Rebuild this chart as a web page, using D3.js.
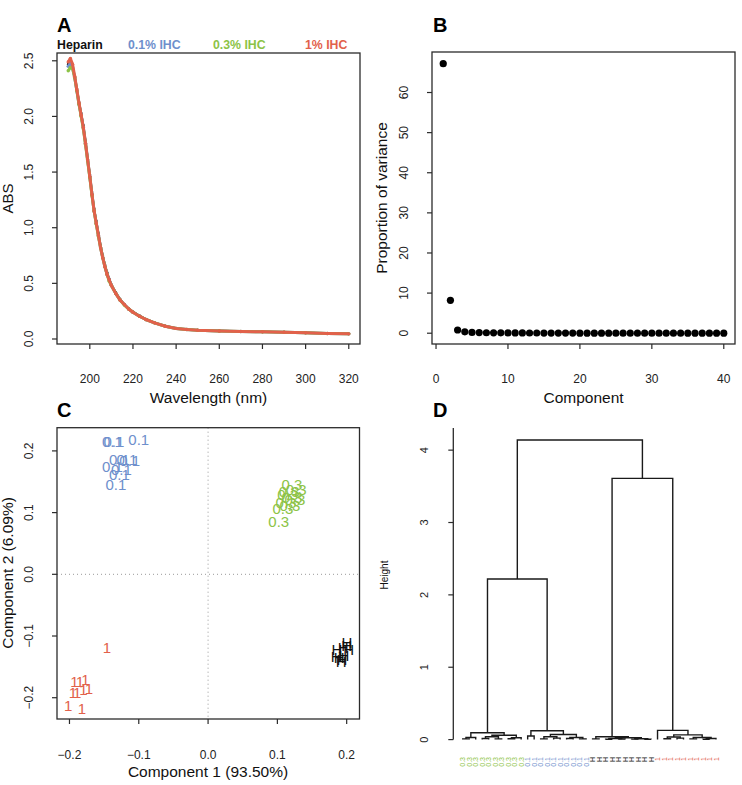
<!DOCTYPE html>
<html>
<head>
<meta charset="utf-8">
<script src="https://cdn.jsdelivr.net/npm/d3@7"></script>
<style>
  body { margin: 0; background: #fff; }
  svg { display: block; font-family: "Liberation Sans", Arial, Helvetica, sans-serif; }
</style>
</head>
<body>
<svg id="fig" width="742" height="785"></svg>
<script>
// ---- data ----
const wavelength = [190,191,192,193,194,195,196,197,198,199,200,201,202,203,204,205,206,207,208,209,210,212,214,216,218,220,223,226,230,235,240,245,250,260,270,280,290,300,310,320];
const absHeparin = [2.47,2.49,2.45,2.36,2.25,2.13,2.03,1.92,1.78,1.63,1.48,1.32,1.17,1.06,0.95,0.84,0.75,0.67,0.60,0.54,0.49,0.42,0.36,0.31,0.275,0.245,0.21,0.178,0.147,0.117,0.097,0.086,0.079,0.073,0.069,0.065,0.061,0.056,0.051,0.047];
const absIhc01 = [2.45,2.48,2.44,2.35,2.23,2.11,2.01,1.90,1.76,1.61,1.46,1.30,1.15,1.04,0.93,0.82,0.73,0.65,0.58,0.53,0.48,0.41,0.35,0.31,0.27,0.24,0.205,0.175,0.145,0.115,0.095,0.085,0.078,0.072,0.068,0.064,0.060,0.055,0.050,0.046];
const absIhc03 = [2.41,2.44,2.43,2.35,2.23,2.11,2.00,1.89,1.75,1.60,1.45,1.29,1.15,1.03,0.92,0.82,0.73,0.65,0.58,0.52,0.48,0.41,0.35,0.305,0.27,0.24,0.205,0.175,0.145,0.115,0.095,0.085,0.078,0.072,0.068,0.064,0.060,0.055,0.050,0.046];
const absIhc1 = [2.49,2.52,2.47,2.36,2.24,2.12,2.01,1.90,1.76,1.61,1.46,1.30,1.15,1.04,0.93,0.82,0.73,0.65,0.58,0.53,0.48,0.41,0.35,0.31,0.27,0.24,0.205,0.175,0.145,0.115,0.095,0.085,0.078,0.072,0.068,0.064,0.060,0.055,0.050,0.046];

const groupNames = ["Heparin", "0.1% IHC", "0.3% IHC", "1% IHC"];
const groupColors = ["#111111", "#6e8fcc", "#8cc346", "#e2614b"];

// scree plot (panel B)
const varianceProp = [67.2,8.2,0.8,0.35,0.2,0.15,0.12,0.1,0.09,0.08,0.07,0.06,0.05,0.05,0.04,0.04,0.03,0.03,0.03,0.02,0.02,0.02,0.02,0.02,0.01,0.01,0.01,0.01,0.01,0.01,0.01,0.01,0.01,0.01,0.0,0.0,0.0,0.0,0.0,0.0];

// PCA scores (panel C)
const pcLabel = ["0.1","0.3","1","H"];
const pc1_01 = [-0.138,-0.136,-0.100,-0.128,-0.117,-0.113,-0.138,-0.128,-0.125,-0.133];
const pc2_01 = [0.215,0.215,0.218,0.186,0.186,0.185,0.174,0.161,0.169,0.145];
const pc1_03 = [0.121,0.127,0.115,0.121,0.1125,0.118,0.108,0.1255,0.102,0.117];
const pc2_03 = [0.145,0.137,0.129,0.124,0.116,0.111,0.107,0.121,0.086,0.134];
const pc1_1 = [-0.146,-0.193,-0.185,-0.177,-0.195,-0.189,-0.180,-0.172,-0.202,-0.182];
const pc2_1 = [-0.119,-0.174,-0.174,-0.170,-0.192,-0.192,-0.187,-0.186,-0.212,-0.218];
const pc1_H = [0.186,0.195,0.200,0.203,0.189,0.196,0.192,0.185,0.2005,0.193];
const pc2_H = [-0.1227,-0.118,-0.115,-0.1227,-0.1357,-0.131,-0.142,-0.134,-0.110,-0.139];

// dendrogram (panel D): [height, left, right], leaves are labels
const treeGreen = [0.095, [0.03, [0.01,"0.3","0.3"], "0.3"], [0.06, [0.04, [0.015,"0.3","0.3"], [0.01,"0.3","0.3"]], [0.025, [0.012,"0.3","0.3"], "0.3"]]];
const treeBlue = [0.123, [0.05,"0.1","0.1"], [0.07, [0.04, [0.01,"0.1","0.1"], [0.02,"0.1","0.1"]], [0.03, [0.015,"0.1","0.1"], [0.01,"0.1","0.1"]]]];
const treeBlack = [0.04, [0.01,"H","H"], [0.025, [0.015, [0.005,"H","H"], [0.008,"H","H"]], [0.012, [0.006,"H","H"], [0.004,"H","H"]]]];
const treeRed = [0.128, "1", [0.065, [0.035, [0.012,"1","1"], [0.02,"1","1"]], [0.03, [0.01,"1","1"], [0.015, [0.005,"1","1"], "1"]]]];
const dendro = [4.14, [2.22, treeGreen, treeBlue], [3.61, treeBlack, treeRed]];
const leafColor = {"H": "#111111", "0.1": "#6e8fcc", "0.3": "#8cc346", "1": "#e2614b"};

// ---- drawing ----
const svg = d3.select("#fig");
const ink = "#2b2b2b";
const minus = s => s.replace("-", "\u2212");

function box(x, y) {
    svg.append("rect")
        .attr("x", x.range()[0]).attr("y", y.range()[1])
        .attr("width", x.range()[1] - x.range()[0])
        .attr("height", y.range()[0] - y.range()[1])
        .attr("fill", "none").attr("stroke", ink).attr("stroke-width", 1.3);
}

function xAxis(x, y0, ticks, labelY, fmt, size) {
    const g = svg.append("g");
    g.selectAll("line").data(ticks).join("line")
        .attr("x1", d => x(d)).attr("x2", d => x(d))
        .attr("y1", y0).attr("y2", y0 + 5)
        .attr("stroke", ink).attr("stroke-width", 1.2);
    g.selectAll("text").data(ticks).join("text")
        .attr("x", d => x(d)).attr("y", labelY)
        .attr("text-anchor", "middle").attr("font-size", size || 12).attr("fill", "#222")
        .text(d => minus(fmt(d)));
}

function yAxis(y, x0, ticks, labelX, fmt, size) {
    const g = svg.append("g");
    g.selectAll("line").data(ticks).join("line")
        .attr("x1", x0 - 5).attr("x2", x0)
        .attr("y1", d => y(d)).attr("y2", d => y(d))
        .attr("stroke", ink).attr("stroke-width", 1.2);
    g.selectAll("text").data(ticks).join("text")
        .attr("transform", d => `translate(${labelX},${y(d)}) rotate(-90)`)
        .attr("dy", "0.36em")
        .attr("text-anchor", "middle").attr("font-size", size || 12).attr("fill", "#222")
        .text(d => minus(fmt(d)));
}

function title(txt, x, y, rot, size) {
    svg.append("text")
        .attr("transform", rot ? `translate(${x},${y}) rotate(-90)` : `translate(${x},${y})`)
        .attr("dy", rot ? "0.36em" : 0)
        .attr("text-anchor", "middle").attr("font-size", size || 15.5).attr("fill", "#111")
        .text(txt);
}

function letter(txt, x, y) {
    svg.append("text").attr("x", x).attr("y", y)
        .attr("font-size", 20).attr("font-weight", "bold").attr("fill", "#000").text(txt);
}

// Panel A: spectra
const xA = d3.scaleLinear().domain([184.8, 325.2]).range([57, 360]);
const yA = d3.scaleLinear().domain([-0.045, 2.57]).range([344, 53]);
const spectra = [absHeparin, absIhc01, absIhc03, absIhc1];
const lineA = d3.line().x((d, i) => xA(wavelength[i])).y(d => yA(d));
spectra.forEach((s, k) => {
    svg.append("path").datum(s)
        .attr("d", lineA)
        .attr("fill", "none")
        .attr("stroke", groupColors[k])
        .attr("stroke-width", k === 0 ? 2 : 3)
        .attr("stroke-linejoin", "round");
    svg.append("g").selectAll("circle").data(s).join("circle")
        .attr("cx", (d, i) => xA(wavelength[i])).attr("cy", d => yA(d))
        .attr("r", k === 0 ? 1.3 : 1.7)
        .attr("fill", groupColors[k]);
});
box(xA, yA);
xAxis(xA, 344, [200,220,240,260,280,300,320], 383, d3.format("d"));
yAxis(yA, 57, [0,0.5,1,1.5,2,2.5], 29, d3.format(".1f"));
title("Wavelength (nm)", 208.5, 403);
title("ABS", 7.5, 198.5, true, 15);
letter("A", 57, 32);
const legendX = [57, 128, 213, 305];
groupNames.forEach((n, k) => {
    svg.append("text").attr("x", legendX[k]).attr("y", 48.5)
        .attr("font-size", 12.3).attr("font-weight", "bold")
        .attr("fill", groupColors[k]).text(n);
});

// Panel B: scree plot
const xB = d3.scaleLinear().domain([-0.56, 41.56]).range([432, 735]);
const yB = d3.scaleLinear().domain([-2.69, 70.1]).range([344, 52]);
svg.append("g").selectAll("circle").data(varianceProp).join("circle")
    .attr("cx", (d, i) => xB(i + 1)).attr("cy", d => yB(d))
    .attr("r", 3.6).attr("fill", "#000");
box(xB, yB);
xAxis(xB, 344, [0,10,20,30,40], 383, d3.format("d"));
yAxis(yB, 432, [0,10,20,30,40,50,60], 403.5, d3.format("d"));
title("Component", 583.5, 403);
title("Proportion of variance", 381, 198, true);
letter("B", 433, 32);

// Panel C: PCA scores
const xC = d3.scaleLinear().domain([-0.218, 0.2185]).range([57, 359.5]);
const yC = d3.scaleLinear().domain([-0.2345, 0.2376]).range([719, 427.7]);
svg.append("line").attr("x1", xC(0)).attr("x2", xC(0))
    .attr("y1", yC.range()[1]).attr("y2", yC.range()[0])
    .attr("stroke", "#999").attr("stroke-dasharray", "1,3");
svg.append("line").attr("x1", xC.range()[0]).attr("x2", xC.range()[1])
    .attr("y1", yC(0)).attr("y2", yC(0))
    .attr("stroke", "#999").attr("stroke-dasharray", "1,3");
const pcSets = [[pc1_01, pc2_01, 1], [pc1_03, pc2_03, 2], [pc1_1, pc2_1, 3], [pc1_H, pc2_H, 0]];
pcSets.forEach(([px, py, k], j) => {
    svg.append("g").selectAll("text").data(px).join("text")
        .attr("x", d => xC(d)).attr("y", (d, i) => yC(py[i]))
        .attr("dy", "0.36em").attr("text-anchor", "middle")
        .attr("font-size", 15).attr("fill", groupColors[k])
        .text(pcLabel[j]);
});
box(xC, yC);
xAxis(xC, 719, [-0.2,-0.1,0,0.1,0.2], 759, d3.format(".1f"));
yAxis(yC, 57, [-0.2,-0.1,0,0.1,0.2], 29, d3.format(".1f"));
title("Component 1 (93.50%)", 208, 777);
title("Component 2 (6.09%)", 7.5, 573, true);
letter("C", 57, 417);

// Panel D: dendrogram
const xD = d3.scaleLinear().domain([-0.56, 41.56]).range([452.6, 726.1]);
const yD = d3.scaleLinear().domain([0, 4.306]).range([739.6, 428]);
const segs = [];
const leaves = [];
function layout(node) {
    if (typeof node === "string") {
        leaves.push(node);
        return { x: leaves.length, h: 0 };
    }
    const [h, l, r] = node;
    const L = layout(l), R = layout(r);
    segs.push({ xl: L.x, hl: L.h, xr: R.x, hr: R.h, h: h });
    return { x: (L.x + R.x) / 2, h: h };
}
layout(dendro);
svg.append("g").selectAll("path").data(segs).join("path")
    .attr("d", d => `M${xD(d.xl)},${yD(d.hl)}V${yD(d.h)}H${xD(d.xr)}V${yD(d.hr)}`)
    .attr("fill", "none").attr("stroke", "#1a1a1a").attr("stroke-width", 1.4);
svg.append("g").selectAll("text").data(leaves).join("text")
    .attr("transform", (d, i) => `translate(${xD(i + 1)},757) rotate(-90)`)
    .attr("dy", "0.36em").attr("text-anchor", "end")
    .attr("font-size", 7).attr("fill", d => leafColor[d])
    .text(d => d);
svg.append("line").attr("x1", 453.3).attr("x2", 453.3)
    .attr("y1", yD(0)).attr("y2", yD(4.306))
    .attr("stroke", ink).attr("stroke-width", 1.3);
yAxis(d3.scaleLinear().domain(yD.domain()).range([739.6, 428]), 453.3, [0,1,2,3,4], 424, d3.format("d"), 11);
title("Height", 384, 575, true, 10);
letter("D", 433, 417);
</script>
</body>
</html>
